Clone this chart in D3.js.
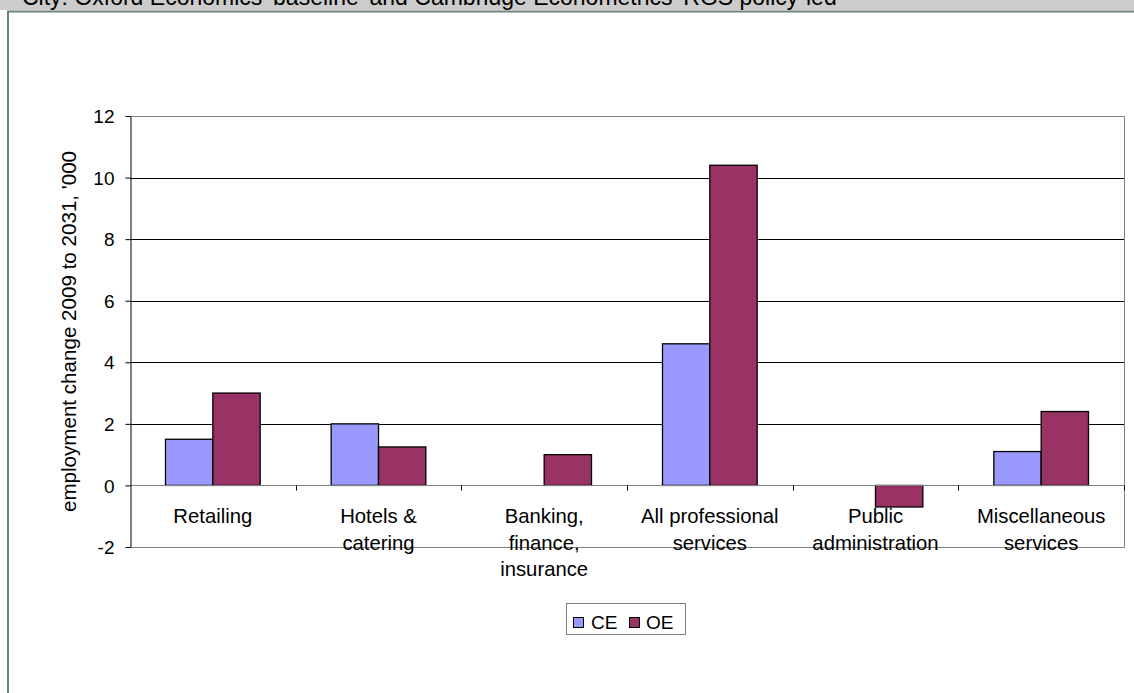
<!DOCTYPE html>
<html>
<head>
<meta charset="utf-8">
<script src="https://cdn.jsdelivr.net/npm/d3@7"></script>
<style>
  html, body { margin: 0; padding: 0; background: #fff; }
  svg { display: block; font-family: "Liberation Sans", Arial, sans-serif; }
</style>
</head>
<body>
<svg id="chart" width="1134" height="693"></svg>
<script>
// Employment change by sector, 2009 to 2031 ('000)
const categories = [
  ["Retailing"],
  ["Hotels &", "catering"],
  ["Banking,", "finance,", "insurance"],
  ["All professional", "services"],
  ["Public", "administration"],
  ["Miscellaneous", "services"]
];
const seriesNames = ["CE", "OE"];
const ceValues = [1.5, 2.0, null, 4.6, null, 1.1];
const oeValues = [3.0, 1.25, 1.0, 10.4, -0.7, 2.4];
const yTicks = [-2, 0, 2, 4, 6, 8, 10, 12];
const titleText = "City: Oxford Economics 'baseline' and Cambridge Econometrics 'RGS policy-led'";
const yAxisTitle = "employment change 2009 to 2031, '000";

const colors = { CE: "#9999ff", OE: "#993366" };

const svg = d3.select("#chart");
const W = 1134, H = 693;
svg.append("rect").attr("width", W).attr("height", H).attr("fill", "#fff");

// header strip; the title runs past the top of the page
svg.append("rect").attr("x", 0).attr("y", 0).attr("width", W).attr("height", 10).attr("fill", "#cccccc");
svg.append("text").attr("x", 22).attr("y", 5).attr("font-size", 23).attr("fill", "#000")
  .text(titleText);

// outer frame (top and left edges)
svg.append("line").attr("x1", 7).attr("x2", W).attr("y1", 11.5).attr("y2", 11.5)
  .attr("stroke", "#6b8577").attr("stroke-width", 2);
svg.append("line").attr("x1", 8).attr("x2", 8).attr("y1", 11).attr("y2", H)
  .attr("stroke", "#6b8577").attr("stroke-width", 2);

// plot area
const plot = { left: 130, right: 1124, top: 116, bottom: 547 };
const x = d3.scaleBand().domain(d3.range(categories.length))
  .range([plot.left, plot.right]).paddingInner(0).paddingOuter(0);
const y = d3.scaleLinear().domain([-2, 12]).range([plot.bottom, plot.top]);

const bw = x.bandwidth();
const barW = bw / 3.5;
const xs = d3.scaleBand().domain(seriesNames).range([0, 2 * barW]);

// gridlines
svg.append("g").selectAll("line").data(yTicks.filter(v => v > 0 && v < 12)).join("line")
  .attr("x1", plot.left).attr("x2", plot.right)
  .attr("y1", d => Math.round(y(d)) + 0.5).attr("y2", d => Math.round(y(d)) + 0.5)
  .attr("stroke", "#000").attr("stroke-width", 1);

// plot border (top, right, bottom)
svg.append("path")
  .attr("d", `M${plot.left},${Math.round(y(12)) + 0.5}H${plot.right + 0.5}V${Math.round(y(-2)) + 0.5}H${plot.left}`)
  .attr("fill", "none").attr("stroke", "#808080").attr("stroke-width", 1);

// bars
const rows = categories.map((c, i) => ({ i, CE: ceValues[i], OE: oeValues[i] }));
const gBars = svg.append("g");
seriesNames.forEach(s => {
  gBars.selectAll(null).data(rows.filter(r => r[s] !== null)).join("rect")
    .attr("x", r => x(r.i) + (bw - 2 * barW) / 2 + xs(s))
    .attr("y", r => y(Math.max(0, r[s])))
    .attr("width", barW)
    .attr("height", r => Math.abs(y(r[s]) - y(0)))
    .attr("fill", colors[s])
    .attr("stroke", "#000").attr("stroke-width", 1.3);
});

// category axis along zero
const y0 = Math.round(y(0)) + 0.5;
const xAxis = svg.append("g").attr("transform", `translate(0,${y0})`);
xAxis.append("line").attr("x1", plot.left).attr("x2", plot.right).attr("stroke", "#808080");
xAxis.selectAll(".tk").data(d3.range(1, categories.length + 1)).join("line")
  .attr("class", "tk")
  .attr("x1", d => Math.round(plot.left + d * bw) + 0.5).attr("x2", d => Math.round(plot.left + d * bw) + 0.5)
  .attr("y1", 0).attr("y2", 5).attr("stroke", "#000");

// category labels
const labels = svg.append("g").attr("font-size", 20.3).attr("text-anchor", "middle").attr("fill", "#000");
categories.forEach((lines, i) => {
  const t = labels.append("text").attr("x", x(i) + bw / 2).attr("y", 523);
  lines.forEach((ln, k) => t.append("tspan").attr("x", x(i) + bw / 2).attr("dy", k ? 26.5 : 0).text(ln));
});

// value axis
const yAxis = d3.axisLeft(y).tickValues(yTicks).tickFormat(d => String(d))
  .tickSize(5).tickSizeOuter(0).tickPadding(11);
const gy = svg.append("g").attr("transform", `translate(${plot.left + 0.5},0)`).call(yAxis);
gy.select(".domain").attr("stroke", "#000");
gy.selectAll(".tick line").attr("stroke", "#000");
gy.selectAll(".tick text").attr("font-size", 19).attr("font-family", "Liberation Sans, Arial, sans-serif")
  .attr("fill", "#000").attr("dy", "0.35em");

svg.append("text")
  .attr("transform", `translate(76,${(plot.top + plot.bottom) / 2}) rotate(-90)`)
  .attr("text-anchor", "middle").attr("font-size", 20.6).attr("fill", "#000")
  .text(yAxisTitle);

// legend
const leg = svg.append("g");
leg.append("rect").attr("x", 566.5).attr("y", 603.5).attr("width", 119).attr("height", 31)
  .attr("fill", "#fff").attr("stroke", "#808080");
const legItems = [{ s: "CE", sx: 573, tx: 591 }, { s: "OE", sx: 629, tx: 646 }];
legItems.forEach(d => {
  leg.append("rect").attr("x", d.sx + 0.5).attr("y", 617.5).attr("width", 10).attr("height", 10)
    .attr("fill", colors[d.s]).attr("stroke", "#000");
  leg.append("text").attr("x", d.tx).attr("y", 629).attr("font-size", 19).attr("fill", "#000").text(d.s);
});
</script>
</body>
</html>
